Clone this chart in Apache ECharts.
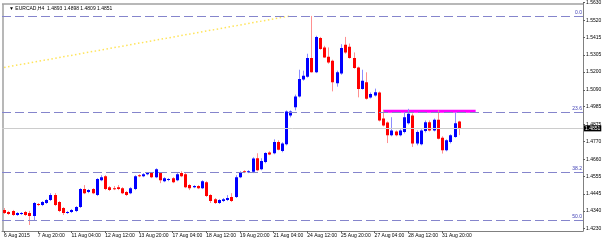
<!DOCTYPE html>
<html><head><meta charset="utf-8">
<script src="https://cdn.jsdelivr.net/npm/echarts@6/dist/echarts.min.js"></script>
<style>html,body{margin:0;padding:0;background:#fff}#c{width:606px;height:244px}</style>
</head><body><div id="c"></div>
<script>
// EURCAD H4 bars, first bar = 6 Aug 2015 12:00
const openP = [
1.4346,1.4333,1.4340,1.4315,1.4321,1.4333,1.4327,1.4309,1.4383,1.4377,
1.4389,1.4407,1.4438,1.4395,1.4358,1.4327,1.4333,1.4340,1.4364,1.4475,
1.4457,1.4475,1.4438,1.4530,1.4555,1.4487,1.4481,1.4487,1.4481,1.4457,
1.4450,1.4475,1.4561,1.4555,1.4567,1.4574,1.4549,1.4574,1.4524,1.4534,
1.4543,1.4530,1.4574,1.4567,1.4500,1.4487,1.4494,1.4481,1.4518,1.4438,
1.4413,1.4389,1.4401,1.4407,1.4426,1.4426,1.4549,1.4586,1.4580,1.4582,
1.4666,1.4598,1.4643,1.4701,1.4697,1.4766,1.4711,1.4752,1.4931,1.4982,
1.5048,1.5153,1.5171,1.5286,1.5198,1.5411,1.5352,1.5294,1.5270,1.5130,
1.5191,1.5368,1.5356,1.5286,1.5228,1.5095,1.5136,1.5042,1.5054,1.5073,
1.4912,1.4888,1.4808,1.4832,1.4808,1.4828,1.4882,1.4931,1.4757,1.4752,
1.4834,1.4889,1.4838,1.4904,1.4793,1.4715,1.4766,1.4797,1.4893];
const closeP = [
1.4327,1.4321,1.4315,1.4327,1.4327,1.4315,1.4309,1.4389,1.4377,1.4395,
1.4407,1.4438,1.4377,1.4340,1.4327,1.4333,1.4346,1.4364,1.4475,1.4450,
1.4469,1.4450,1.4537,1.4549,1.4475,1.4469,1.4478,1.4475,1.4450,1.4438,
1.4481,1.4555,1.4559,1.4567,1.4574,1.4549,1.4598,1.4530,1.4543,1.4537,
1.4518,1.4567,1.4555,1.4487,1.4481,1.4494,1.4481,1.4524,1.4432,1.4401,
1.4389,1.4407,1.4413,1.4420,1.4401,1.4549,1.4580,1.4580,1.4586,1.4664,
1.4592,1.4649,1.4699,1.4689,1.4766,1.4719,1.4757,1.4955,1.4955,1.5048,
1.5157,1.5177,1.5286,1.5198,1.5417,1.5342,1.5290,1.5259,1.5136,1.5198,
1.5348,1.5321,1.5286,1.5225,1.5095,1.5146,1.5034,1.5064,1.5074,1.4900,
1.4869,1.4808,1.4838,1.4808,1.4838,1.4920,1.4941,1.4757,1.4828,1.4838,
1.4889,1.4838,1.4904,1.4787,1.4715,1.4777,1.4808,1.4883,1.4851];
const highP = [
1.4358,1.4340,1.4346,1.4333,1.4333,1.4340,1.4340,1.4395,1.4389,1.4401,
1.4413,1.4450,1.4450,1.4401,1.4364,1.4340,1.4352,1.4370,1.4481,1.4500,
1.4475,1.4481,1.4543,1.4561,1.4561,1.4494,1.4494,1.4500,1.4487,1.4463,
1.4487,1.4561,1.4567,1.4574,1.4580,1.4580,1.4604,1.4580,1.4549,1.4543,
1.4549,1.4574,1.4586,1.4574,1.4506,1.4500,1.4500,1.4530,1.4524,1.4444,
1.4420,1.4413,1.4420,1.4438,1.4450,1.4561,1.4586,1.4592,1.4592,1.4672,
1.4697,1.4666,1.4703,1.4709,1.4783,1.4777,1.4765,1.4962,1.4962,1.5060,
1.5214,1.5208,1.5313,1.5547,1.5424,1.5417,1.5362,1.5352,1.5276,1.5208,
1.5372,1.5417,1.5376,1.5321,1.5233,1.5214,1.5198,1.5073,1.5097,1.5079,
1.4962,1.4894,1.4920,1.4838,1.4845,1.4951,1.4972,1.4943,1.4838,1.4845,
1.4900,1.4900,1.4912,1.4962,1.4802,1.4783,1.4814,1.4951,1.4898];
const lowP = [
1.4321,1.4315,1.4309,1.4309,1.4315,1.4309,1.4253,1.4284,1.4370,1.4370,
1.4383,1.4401,1.4370,1.4333,1.4315,1.4321,1.4327,1.4333,1.4358,1.4444,
1.4450,1.4444,1.4432,1.4524,1.4469,1.4463,1.4469,1.4469,1.4444,1.4432,
1.4444,1.4469,1.4549,1.4549,1.4561,1.4543,1.4543,1.4512,1.4518,1.4524,
1.4512,1.4524,1.4549,1.4481,1.4469,1.4481,1.4475,1.4475,1.4426,1.4389,
1.4383,1.4383,1.4395,1.4401,1.4395,1.4420,1.4543,1.4574,1.4574,1.4574,
1.4586,1.4592,1.4635,1.4685,1.4691,1.4715,1.4703,1.4746,1.4919,1.4962,
1.5042,1.5146,1.5165,1.5196,1.5193,1.5337,1.5288,1.5251,1.5080,1.5109,
1.5183,1.5313,1.5282,1.5220,1.5043,1.5091,1.5029,1.5036,1.5048,1.4894,
1.4863,1.4760,1.4802,1.4802,1.4802,1.4820,1.4875,1.4736,1.4746,1.4746,
1.4826,1.4832,1.4832,1.4783,1.4695,1.4709,1.4758,1.4793,1.4809];

const xTickLabels = ['6 Aug 2015','7 Aug 20:00','11 Aug 04:00','12 Aug 12:00','13 Aug 20:00','17 Aug 04:00','18 Aug 12:00','19 Aug 20:00','21 Aug 04:00','24 Aug 12:00','25 Aug 20:00','27 Aug 04:00','28 Aug 12:00','31 Aug 20:00'];
const yTickLabels = ['1.4230','1.4340','1.4445','1.4555','1.4660','1.4770','1.4875','1.4985','1.5090','1.5200','1.5305','1.5415','1.5520','1.5630'];
const fibNames = ['0.0','23.6','38.2','50.0'];
const fibPrices = [1.5547, 1.4950, 1.4581, 1.4282];
const resistIdx = [90, 112];
const resistPrice = 1.4957;
const trendIdx = [0, 68];
const trendPrice = [1.5228, 1.5547];
const lastPrice = 1.4851;
const titleText = '\u25BC EURCAD,H4  1.4893 1.4898 1.4809 1.4851';
const slotCount = 138;   // visible H4 slots incl. right chart shift
const tickEvery = 8;

const categories = Array.from({length: slotCount}, (_, i) => String(i));
const candleData = openP.map((o, i) => [i, o, closeP[i], lowP[i], highP[i]]);

const FONT = 'Liberation Sans';
const chart = echarts.init(document.getElementById('c'), null, {renderer: 'canvas'});

function renderCandle(params, api) {
  const i = api.value(0);
  const o = api.value(1), c = api.value(2), l = api.value(3), h = api.value(4);
  const pO = api.coord([i, o]), pC = api.coord([i, c]);
  const yH = api.coord([i, h])[1], yL = api.coord([i, l])[1];
  const x = Math.round(pO[0]);
  const up = c >= o;
  const top = Math.min(pO[1], pC[1]), bot = Math.max(pO[1], pC[1]);
  return {type: 'group', children: [
    {type: 'line', shape: {x1: x + 0.5, y1: yH, x2: x + 0.5, y2: yL},
     style: {stroke: up ? '#8c8cff' : '#ff9090', lineWidth: 1}},
    {type: 'rect', shape: {x: x - 1, y: top, width: 3, height: Math.max(bot - top, 1)},
     style: {fill: up ? '#0000ff' : '#ff0000'}}
  ]};
}

const fibLineData = fibPrices.map((p, k) => ({
  yAxis: p,
  label: {formatter: fibNames[k]}
}));

chart.setOption({
  animation: false,
  backgroundColor: '#ffffff',
  title: {text: titleText, left: 4, top: 1, textStyle: {fontSize: 5, fontWeight: 'normal', color: '#000', fontFamily: FONT}},
  grid: {left: 2, right: 23, top: 1.5, bottom: 13},
  xAxis: {
    type: 'category', data: categories, boundaryGap: true,
    axisLine: {show: true, lineStyle: {color: '#808080', width: 1}},
    axisTick: {show: true, length: 2, alignWithLabel: true,
      interval: (idx) => idx % tickEvery === 0 && idx / tickEvery < xTickLabels.length,
      lineStyle: {color: '#606060'}},
    axisLabel: {
      interval: (idx) => idx % tickEvery === 0 && idx / tickEvery < xTickLabels.length,
      formatter: (v, idx) => xTickLabels[Math.round(Number(v) / tickEvery)] || '',
      align: 'left', fontSize: 5, color: '#000', margin: 2, fontFamily: FONT
    },
    splitLine: {show: false}
  },
  yAxis: {
    type: 'value', position: 'right', min: 1.42158, max: 1.5630, scale: true,
    axisLine: {show: true, lineStyle: {color: '#808080', width: 1}},
    axisTick: {show: true, length: 2, customValues: yTickLabels.map(Number), lineStyle: {color: '#606060'}},
    axisLabel: {customValues: yTickLabels.map(Number), formatter: v => v.toFixed(4),
      fontSize: 5, color: '#000', margin: 3, fontFamily: FONT},
    splitLine: {show: false}
  },
  graphic: [
    {type: 'line', shape: {x1: 2, y1: 4, x2: 583, y2: 4}, style: {stroke: '#a0a0a0', lineWidth: 1.5}, z: 1},
    {type: 'line', shape: {x1: 3, y1: 4, x2: 3, y2: 231}, style: {stroke: '#a0a0a0', lineWidth: 1.5}, z: 1}
  ],
  series: [
    {
      type: 'line', name: 'last', data: [], silent: true,
      markLine: {
        symbol: 'none', silent: true, animation: false, precision: 6,
        lineStyle: {color: '#cccccc', type: 'solid', width: 1},
        label: {position: 'end', formatter: lastPrice.toFixed(4), backgroundColor: '#000', color: '#fff',
          fontSize: 5, padding: [1, 1, 0, 1], distance: 1, fontFamily: FONT},
        data: [{yAxis: lastPrice}]
      }
    },
    {
      type: 'line', name: 'fib', data: [], silent: true,
      markLine: {
        symbol: 'none', silent: true, animation: false, precision: 6,
        lineStyle: {color: '#8585cc', type: [9, 4], width: 1.2},
        label: {position: 'insideEndTop', color: '#3c3cb4', fontSize: 5, distance: 1, fontFamily: FONT},
        data: fibLineData
      }
    },
    {
      type: 'line', name: 'trend', data: trendIdx.map((ix, k) => [ix, trendPrice[k]]),
      showSymbol: false, silent: true,
      lineStyle: {color: '#ffe45a', width: 1.5, type: [1.5, 2.5]}
    },
    {
      type: 'line', name: 'resist', data: resistIdx.map(ix => [ix, resistPrice]),
      showSymbol: false, silent: true, z: 3,
      lineStyle: {color: '#ff00ff', width: 3}
    },
    {
      type: 'custom', name: 'EURCAD', renderItem: renderCandle, data: candleData,
      encode: {x: 0, y: [1, 2, 3, 4]}, clip: true, z: 4
    }
  ]
});
</script></body></html>
